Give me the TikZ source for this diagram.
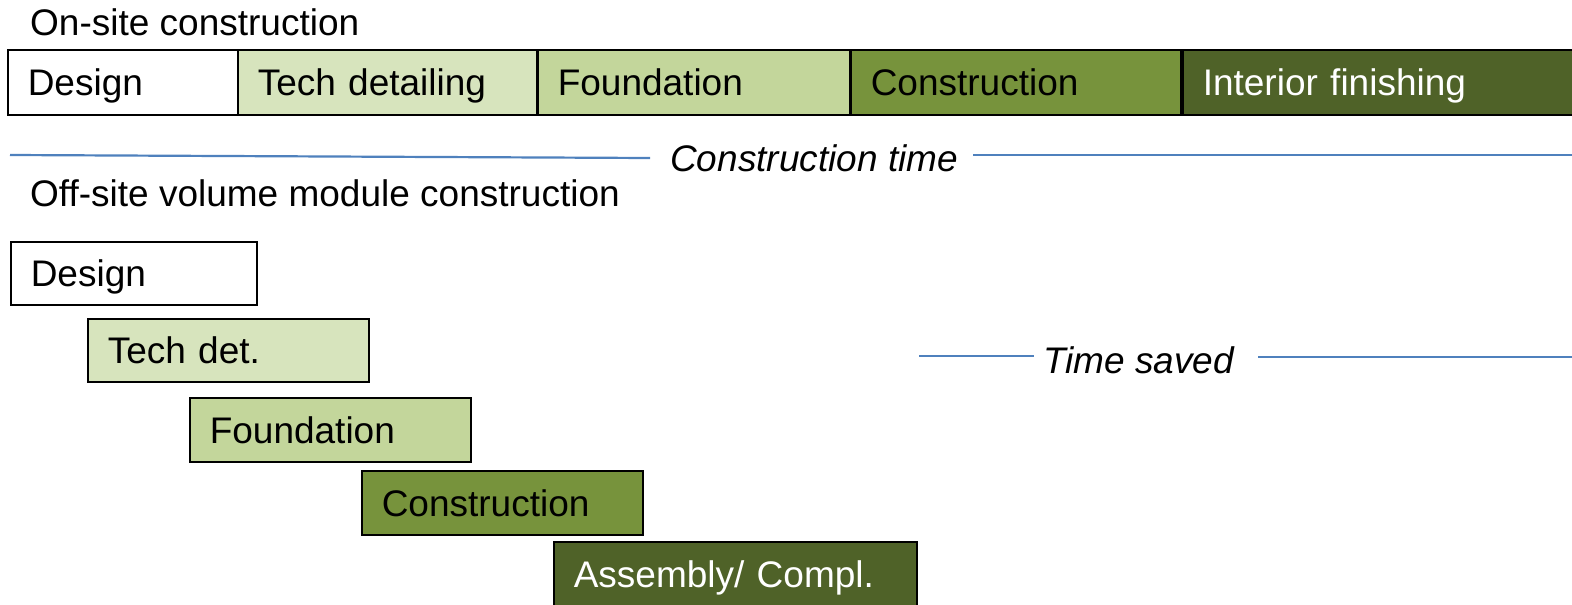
\documentclass[tikz,border=0pt]{standalone}
\usepackage{fontspec}
\setmainfont{Liberation Sans}
\definecolor{gA}{HTML}{D7E4BD}
\definecolor{gB}{HTML}{C3D69B}
\definecolor{gC}{HTML}{77933C}
\definecolor{gD}{HTML}{4F6228}
\definecolor{lineblue}{HTML}{4F81BD}
\tikzset{
  phase/.style={draw=black, line width=1.5pt, anchor=north west, inner xsep=20pt, inner ysep=0pt,
    align=left, text height=26.5pt, text depth=0pt, font=\fontsize{37}{42}\selectfont},
  title/.style={anchor=west, inner sep=0pt, font=\fontsize{37}{42}\selectfont},
  label/.style={anchor=west, inner sep=0pt, font=\fontsize{37}{42}\selectfont\itshape},
  timeline/.style={draw=lineblue, line width=2.2pt}
}
\begin{document}
\begin{tikzpicture}[x=1pt,y=-1pt]
\useasboundingbox (0,0) rectangle (1572,605);
% titles
\node[title] (t1) at (30,22) {On-site construction};
\node[title] (t2) at (30,193) {Off-site volume module construction};
% top row
\node[phase, fill=white, text width=190pt, minimum height=65pt] (d1) at (7,49) {Design};
\node[phase, fill=gA, text width=259pt, minimum height=65pt] (td1) at (237,49) {Tech detailing};
\node[phase, fill=gB, text width=272pt, minimum height=65pt] (f1) at (537,49) {Foundation};
\node[phase, fill=gC, text width=290pt, minimum height=65pt] (c1) at (850,49) {Construction};
\node[phase, fill=gD, text=white, text width=380pt, minimum height=65pt] (i1) at (1182,49) {Interior finishing};
% construction time
\node[label] (ct) at (670,158) {Construction time};
\coordinate (ctA) at (10,155);
\coordinate (ctB) at (650,158);
\coordinate (ctC) at (973,155);
\coordinate (ctD) at (1572,155);
\draw[timeline] (ctA) -- (ctB);
\draw[timeline] (ctC) -- (ctD);
% bottom staggered
\node[phase, fill=white, text width=206pt, minimum height=63pt] (d2) at (10,241) {Design};
\node[phase, fill=gA, text width=241pt, minimum height=63pt] (td2) at (87,318) {Tech det.};
\node[phase, fill=gB, text width=241pt, minimum height=64pt] (f2) at (189,397) {Foundation};
\node[phase, fill=gC, text width=241pt, minimum height=64pt] (c2) at (361,470) {Construction};
\node[phase, fill=gD, text=white, text width=323pt, minimum height=64pt] (a2) at (553,541) {Assembly/ Compl.};
% time saved
\node[label] (ts) at (1043,360) {Time saved};
\coordinate (tsA) at (919,356);
\coordinate (tsB) at (1034,356);
\coordinate (tsC) at (1258,357);
\coordinate (tsD) at (1572,357);
\draw[timeline] (tsA) -- (tsB);
\draw[timeline] (tsC) -- (tsD);
\end{tikzpicture}
\end{document}
